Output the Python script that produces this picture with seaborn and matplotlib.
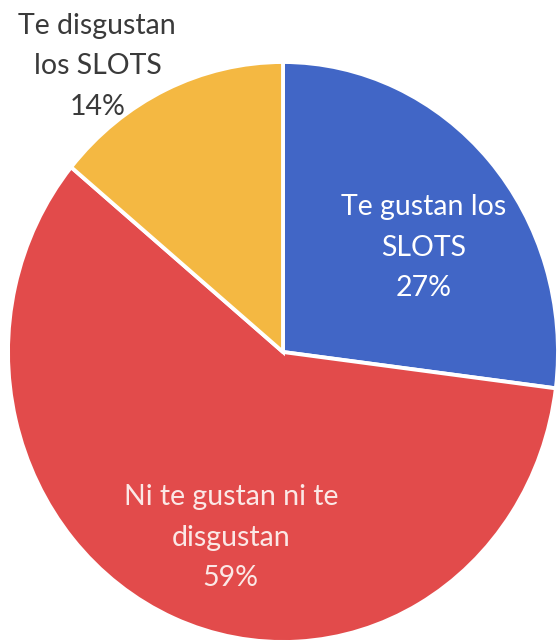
import matplotlib
matplotlib.use("Agg")
import matplotlib.pyplot as plt
import seaborn as sns
import numpy as np

sns.set_theme(style="white")
plt.rcParams["font.family"] = ["Lato", "DejaVu Sans"]

# datos del gráfico
categorias = ["Te gustan los\nSLOTS", "Ni te gustan ni te\ndisgustan", "Te disgustan\nlos SLOTS"]
porcentajes = [27, 59, 14]
colores = ["#4166C6", "#E24B4B", "#F4B842"]
colores_texto = ["#FFFFFF", "#FBE8E6", "#3A3A3A"]
# posición de cada etiqueta (x, y) en coordenadas del pastel
pos_etiquetas = [(0.51, 0.36), (-0.19, -0.64), (-0.675, 0.985)]

fig = plt.figure(figsize=(5.58, 6.44), dpi=100)
ax = fig.add_axes([8 / 558, 2 / 644, 550 / 558, 580 / 644])

ax.pie(
    porcentajes,
    colors=colores,
    startangle=90,
    counterclock=False,
    radius=1,
    wedgeprops={"edgecolor": "white", "linewidth": 2.8},
)
ax.set_aspect("auto")
ax.set_xlim(-1, 1)
ax.set_ylim(-1, 1)
ax.axis("off")

for cat, pct, col, (x, y) in zip(categorias, porcentajes, colores_texto, pos_etiquetas):
    ax.text(x, y, f"{cat}\n{pct}%", ha="center", va="center", color=col,
            fontsize=20.5, linespacing=1.7, clip_on=False)

fig.savefig("out.png", dpi=100)
